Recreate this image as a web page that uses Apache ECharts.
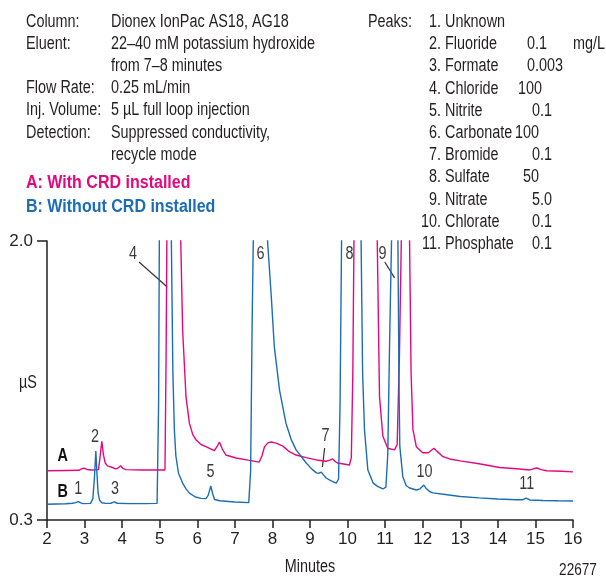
<!DOCTYPE html>
<html lang="en">
<head>
	<meta charset="utf-8">
	<title>CRD chromatogram</title>
	<script src="https://cdn.jsdelivr.net/npm/echarts@6/dist/echarts.min.js"></script>
</head>
<style>
	html,body{padding: 0; margin: 0; background: #fff;}
	.main{width: 606px; height: 580px;}
</style>
<body>
	<div id="main" class="main"></div>
</body>
<script type="text/javascript">
	// minutes / uS; off-scale peaks are given a flat top above 2.0 and get clipped
	var xTicks = [2, 3, 4, 5, 6, 7, 8, 9, 10, 11, 12, 13, 14, 15, 16];
	var yTicks = [0.3, 2.0];

	// A: with CRD installed (pink)
	var traceA = [
		[2.0,0.600],[2.5,0.602],[2.85,0.603],[2.92,0.612],[2.99,0.616],[3.06,0.608],[3.2,0.605],
		[3.37,0.607],[3.41,0.68],[3.46,0.78],[3.50,0.70],[3.55,0.647],[3.61,0.630],[3.74,0.620],
		[3.83,0.612],[3.9,0.618],[3.96,0.630],[4.02,0.615],[4.1,0.607],[4.5,0.605],[5.14,0.605],
		[5.17,1.3],[5.19,2.0],[5.2,2.4],[5.55,2.4],[5.56,2.0],[5.61,1.458],[5.70,1.05],[5.79,0.89],
		[5.88,0.82],[5.97,0.787],[6.1,0.76],[6.23,0.747],[6.45,0.722],[6.52,0.745],[6.59,0.775],
		[6.66,0.735],[6.76,0.696],[7.03,0.678],[7.35,0.665],[7.65,0.653],[7.72,0.69],[7.79,0.747],
		[7.88,0.77],[7.97,0.775],[8.1,0.768],[8.28,0.75],[8.45,0.716],[8.63,0.696],[8.9,0.68],
		[9.17,0.666],[9.43,0.658],[9.53,0.665],[9.6,0.672],[9.68,0.655],[9.74,0.647],[10.05,0.635],
		[10.1,0.68],[10.14,1.2],[10.17,2.0],[10.18,2.4],[10.78,2.4],[10.79,2.0],[10.85,1.05],
		[10.94,0.81],[11.07,0.737],[11.25,0.727],[11.32,0.76],[11.38,1.3],[11.43,2.0],[11.44,2.4],
		[11.64,2.4],[11.65,2.0],[11.69,1.2],[11.74,0.85],[11.83,0.747],[12.0,0.71],[12.15,0.71],
		[12.3,0.737],[12.4,0.715],[12.54,0.686],[12.72,0.672],[13.0,0.66],[13.5,0.643],[14.05,0.62],
		[14.5,0.612],[14.85,0.605],[14.95,0.612],[15.04,0.617],[15.15,0.607],[15.3,0.600],
		[15.7,0.597],[16.0,0.593]
	];

	// B: without CRD installed (blue)
	var traceB = [
		[2.0,0.396],[2.5,0.399],[2.68,0.402],[2.76,0.406],[2.83,0.412],[2.9,0.404],[2.96,0.400],
		[3.16,0.401],[3.22,0.43],[3.26,0.55],[3.30,0.72],[3.33,0.58],[3.36,0.465],[3.40,0.42],
		[3.46,0.405],[3.56,0.401],[3.70,0.402],[3.79,0.410],[3.87,0.402],[4.2,0.400],[4.6,0.400],
		[4.93,0.401],[4.97,1.0],[4.99,2.0],[5.0,2.4],[5.30,2.4],[5.31,2.0],[5.35,1.2],[5.39,0.85],
		[5.43,0.69],[5.5,0.585],[5.61,0.525],[5.7,0.49],[5.79,0.464],[5.95,0.44],[6.1,0.432],
		[6.23,0.430],[6.29,0.45],[6.36,0.507],[6.41,0.46],[6.46,0.425],[6.6,0.417],[7.0,0.410],
		[7.37,0.406],[7.42,0.6],[7.46,1.5],[7.49,2.0],[7.5,2.4],[7.86,2.4],[7.87,2.0],[7.97,1.66],
		[8.05,1.356],[8.19,1.09],[8.36,0.89],[8.5,0.79],[8.63,0.727],[8.9,0.647],[9.05,0.61],
		[9.17,0.587],[9.24,0.585],[9.3,0.592],[9.36,0.575],[9.43,0.556],[9.55,0.54],[9.7,0.525],
		[9.76,0.55],[9.8,1.0],[9.84,2.0],[9.85,2.4],[10.35,2.4],[10.36,2.0],[10.4,1.2],[10.45,0.85],
		[10.54,0.605],[10.68,0.525],[10.8,0.505],[10.94,0.489],[11.02,0.50],[11.07,0.7],[11.12,1.4],
		[11.17,2.0],[11.18,2.4],[11.33,2.4],[11.34,2.0],[11.37,1.1],[11.39,0.75],[11.47,0.564],
		[11.56,0.51],[11.65,0.495],[11.83,0.483],[11.93,0.49],[12.03,0.513],[12.1,0.49],
		[12.19,0.472],[12.27,0.465],[12.6,0.455],[13.0,0.443],[13.5,0.435],[14.0,0.428],
		[14.5,0.423],[14.65,0.423],[14.75,0.434],[14.85,0.422],[15.2,0.419],[15.6,0.417],[16.0,0.416]
	];

	// peak numbers on the plot: [text, minutes, uS]
	var peakLabels = [
		['1', 2.83, 0.49], ['2', 3.28, 0.806], ['3', 3.81, 0.49], ['4', 4.29, 1.92],
		['5', 6.35, 0.59], ['6', 7.68, 1.92], ['7', 9.41, 0.81], ['8', 10.05, 1.92],
		['9', 10.93, 1.92], ['10', 12.05, 0.59], ['11', 14.77, 0.52]
	];
	// leader lines: [from minutes, from uS, to minutes, to uS]
	var leaders = [
		[4.45, 1.872, 5.2, 1.72],
		[10.99, 1.872, 11.25, 1.775],
		[9.39, 0.739, 9.33, 0.623]
	];
	var traceNames = [['A', 2.42, 0.69], ['B', 2.42, 0.47]];

	var conditions = [
		['Column:', 'Dionex IonPac AS18, AG18'],
		['Eluent:', '22–40 mM potassium hydroxide'],
		['', 'from 7–8 minutes'],
		['Flow Rate:', '0.25 mL/min'],
		['Inj. Volume:', '5 µL full loop injection'],
		['Detection:', 'Suppressed conductivity,'],
		['', 'recycle mode']
	];
	var peakNames = ['Unknown', 'Fluoride', 'Formate', 'Chloride', 'Nitrite', 'Carbonate',
		'Bromide', 'Sulfate', 'Nitrate', 'Chlorate', 'Phosphate'];
	var peakConc = ['', '0.1', '0.003', '100', '0.1', '100', '0.1', '50', '5.0', '0.1', '0.1'];
	var concX = [0, 527, 527, 518, 532, 515, 532, 523, 532, 532, 532];

	var pink = '#e4087f';
	var blue = '#1b6db6';
	var ink = '#231f20';
	var font = '"Liberation Sans", Arial, sans-serif';
	var narrow = 0.8; // squeeze Liberation Sans to a condensed look

	var myChart = echarts.init(document.getElementById('main'));

	function txt(x, y, s, opt) {
		opt = opt || {};
		return {
			type: 'text', x: x, y: y, silent: true, scaleX: opt.sx || narrow,
			style: {
				text: s, fill: opt.fill || ink, font: (opt.weight || 'normal') + ' ' + (opt.size || 18) + 'px ' + font,
				textAlign: opt.align || 'left', textVerticalAlign: 'middle'
			}
		};
	}

	var header = [];
	var rowY = [22, 44, 66, 88, 110, 133, 155];
	conditions.forEach(function (r, i) {
		if (r[0]) header.push(txt(26, rowY[i], r[0]));
		header.push(txt(111, rowY[i], r[1]));
	});
	header.push(txt(26, 183, 'A: With CRD installed', {fill: pink, weight: 'bold', size: 18, sx: 0.89}));
	header.push(txt(26, 207, 'B: Without CRD installed', {fill: blue, weight: 'bold', size: 18, sx: 0.89}));
	header.push(txt(412, 22, 'Peaks:', {align: 'right'}));
	peakNames.forEach(function (n, i) {
		var y = 22 + i * 22.2;
		header.push(txt(441, y, (i + 1) + '.', {align: 'right'}));
		header.push(txt(445, y, n));
		if (peakConc[i]) header.push(txt(concX[i], y, peakConc[i]));
	});
	header.push(txt(605, 44, 'mg/L', {align: 'right'}));
	header.push(txt(28, 383, 'µS', {align: 'center'}));
	header.push(txt(310, 567, 'Minutes', {align: 'center'}));
	header.push(txt(578, 570, '22677', {align: 'center', size: 17}));

	var option = {
		animation: false,
		grid: {left: 47, right: 33, top: 241, bottom: 60},
		xAxis: {
			type: 'value', min: 2, max: 16, interval: 1,
			axisLine: {lineStyle: {color: ink, width: 1.5}},
			axisTick: {length: 8, lineStyle: {color: ink, width: 1.5}},
			axisLabel: {color: ink, fontSize: 17, fontFamily: font, margin: 11,
				customValues: xTicks},
			splitLine: {show: false}
		},
		yAxis: {
			type: 'value', min: 0.3, max: 2.0,
			axisLine: {show: true, lineStyle: {color: ink, width: 1.5}},
			axisTick: {show: true, length: 10, lineStyle: {color: ink, width: 1.5}, customValues: yTicks},
			axisLabel: {color: ink, fontSize: 17, fontFamily: font, margin: 14, customValues: yTicks,
				formatter: function (v) { return v.toFixed(1); }},
			splitLine: {show: false}
		},
		series: [
			{type: 'line', name: 'A', data: traceA, showSymbol: false, clip: true,
				lineStyle: {color: pink, width: 1.4}},
			{type: 'line', name: 'B', data: traceB, showSymbol: false, clip: true,
				lineStyle: {color: blue, width: 1.4}}
		]
	};
	myChart.setOption(option);

	// plot annotations placed through the axes
	var notes = [];
	peakLabels.forEach(function (p) {
		var pt = myChart.convertToPixel({gridIndex: 0}, [p[1], p[2]]);
		notes.push(txt(pt[0], pt[1], p[0], {align: 'center', fill: '#3a3a3a'}));
	});
	traceNames.forEach(function (p) {
		var pt = myChart.convertToPixel({gridIndex: 0}, [p[1], p[2]]);
		notes.push(txt(pt[0], pt[1], p[0], {align: 'center', weight: 'bold', fill: '#111'}));
	});
	leaders.forEach(function (l) {
		var a = myChart.convertToPixel({gridIndex: 0}, [l[0], l[1]]);
		var b = myChart.convertToPixel({gridIndex: 0}, [l[2], l[3]]);
		notes.push({type: 'line', silent: true, shape: {x1: a[0], y1: a[1], x2: b[0], y2: b[1]},
			style: {stroke: '#333', lineWidth: 1.2}});
	});
	myChart.setOption({graphic: header.concat(notes)});
</script>
</html>
